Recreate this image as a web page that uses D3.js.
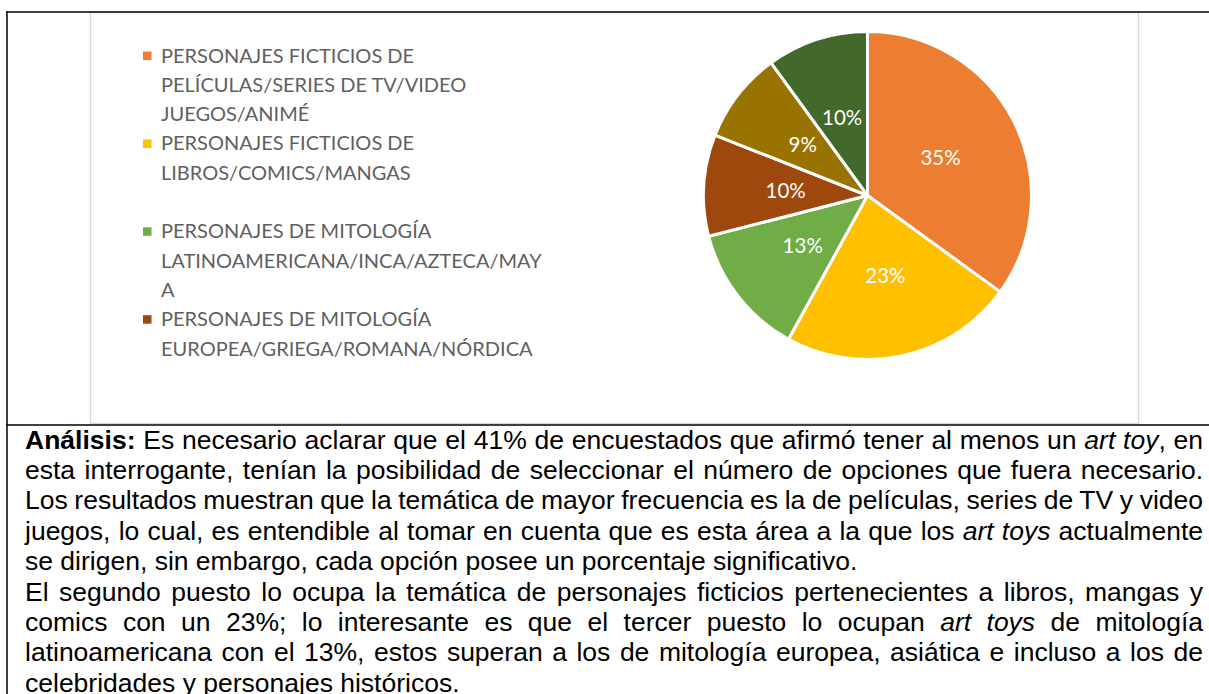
<!DOCTYPE html>
<html>
<head>
<meta charset="utf-8">
<script src="https://cdn.jsdelivr.net/npm/d3@7"></script>
<style>
  body { margin: 0; background: white; }
  svg { display: block; }
</style>
</head>
<body>
<div id="viz"></div>
<script>
// pie values, clockwise from 12 o'clock
var values = [35, 23, 13, 10, 9, 10];
var colors = ['#ED7D31', '#FFC000', '#70AD47', '#9E480E', '#997300', '#43682B'];

// legend entries that are visible (already wrapped like the original)
var legend_lines = [
  ['PERSONAJES FICTICIOS DE', 'PELÍCULAS/SERIES DE TV/VIDEO', 'JUEGOS/ANIMÉ'],
  ['PERSONAJES FICTICIOS DE', 'LIBROS/COMICS/MANGAS', ''],
  ['PERSONAJES DE MITOLOGÍA', 'LATINOAMERICANA/INCA/AZTECA/MAY', 'A'],
  ['PERSONAJES DE MITOLOGÍA', 'EUROPEA/GRIEGA/ROMANA/NÓRDICA']
];

// analysis paragraph, one entry per printed line
var text_lines = [
  {justify: true, parts: [{t: 'Análisis:', b: 1}, {t: ' Es necesario aclarar que el 41% de encuestados que afirmó tener al menos un '}, {t: 'art toy', i: 1}, {t: ', en'}]},
  {justify: true, parts: [{t: 'esta interrogante, tenían la posibilidad de seleccionar el número de opciones que fuera necesario.'}]},
  {justify: true, parts: [{t: 'Los resultados muestran que la temática de mayor frecuencia es la de películas, series de TV y video'}]},
  {justify: true, parts: [{t: 'juegos, lo cual, es entendible al tomar en cuenta que es esta área a la que los '}, {t: 'art toys', i: 1}, {t: ' actualmente'}]},
  {justify: false, parts: [{t: 'se dirigen, sin embargo, cada opción posee un porcentaje significativo.'}]},
  {justify: true, parts: [{t: 'El segundo puesto lo ocupa la temática de personajes ficticios pertenecientes a libros, mangas y'}]},
  {justify: true, parts: [{t: 'comics con un 23%; lo interesante es que el tercer puesto lo ocupan '}, {t: 'art toys', i: 1}, {t: ' de mitología'}]},
  {justify: true, parts: [{t: 'latinoamericana con el 13%, estos superan a los de mitología europea, asiática e incluso a los de'}]},
  {justify: false, parts: [{t: 'celebridades y personajes históricos.'}]}
];

var W = 1209, H = 694;
var svg = d3.select('#viz').append('svg')
    .attr('width', W)
    .attr('height', H);

// table borders
var frame = {left: 90.5, top: 12.5, right: 1138.5, bottom: 423.5};
svg.append('rect')
    .attr('x', frame.left)
    .attr('y', frame.top)
    .attr('width', frame.right - frame.left)
    .attr('height', frame.bottom - frame.top)
    .attr('fill', 'white')
    .attr('stroke', '#D9D9D9')
    .attr('stroke-width', 1.5);
svg.append('line')
    .attr('x1', 6).attr('x2', W).attr('y1', 12).attr('y2', 12)
    .attr('stroke', 'black').attr('stroke-width', 1.5);
svg.append('line')
    .attr('x1', 6).attr('x2', W).attr('y1', 425).attr('y2', 425)
    .attr('stroke', 'black').attr('stroke-width', 1.5);
svg.append('line')
    .attr('x1', 7).attr('x2', 7).attr('y1', 11.25).attr('y2', H)
    .attr('stroke', 'black').attr('stroke-width', 1.5);

// pie
var radius = 164;
var pie = d3.pie().sort(null).value(function(d) { return d; });
var arc = d3.arc().innerRadius(0).outerRadius(radius);
var pie_g = svg.append('g')
    .attr('transform', 'translate(867.5,195.5)');

pie_g.selectAll('path')
    .data(pie(values))
    .enter().append('path')
    .attr('d', arc)
    .attr('fill', function(d, i) { return colors[i]; })
    .attr('stroke', 'white')
    .attr('stroke-width', 3)
    .attr('stroke-linejoin', 'round');

pie_g.selectAll('text')
    .data(pie(values))
    .enter().append('text')
    .attr('transform', function(d) { return 'translate(' + arc.centroid(d) + ')'; })
    .attr('text-anchor', 'middle')
    .attr('dy', '0.35em')
    .attr('fill', 'white')
    .style('font-family', 'Lato, "Open Sans", sans-serif')
    .style('font-size', '20.5px')
    .text(function(d) { return d.value + '%'; });

// legend
var legend_x = 143, legend_y = 55.5, line_h = 29.3;
var row = 0;
legend_lines.forEach(function(lines, i) {
  svg.append('rect')
    .attr('x', legend_x)
    .attr('y', legend_y + row * line_h - 4)
    .attr('width', 8.5)
    .attr('height', 8.5)
    .attr('fill', colors[i]);
  lines.forEach(function(s) {
    svg.append('text')
      .attr('x', legend_x + 18)
      .attr('y', legend_y + row * line_h)
      .attr('dy', '0.35em')
      .attr('fill', '#5f5f5f')
      .style('font-family', 'Lato, "Open Sans", sans-serif')
      .style('font-size', '20px')
      .text(s);
    row++;
  });
});

// analysis text, justified by hand
var text_x = 25, text_right = 1203, base_y = 448.5, text_h = 30.4;
text_lines.forEach(function(line, i) {
  var t = svg.append('text')
    .attr('x', text_x)
    .attr('y', base_y + i * text_h)
    .attr('fill', 'black')
    .style('font-family', '"Liberation Sans", Arial, sans-serif')
    .style('font-size', '26.5px')
    .attr('xml:space', 'preserve');
  line.parts.forEach(function(p) {
    t.append('tspan')
      .style('font-weight', p.b ? 'bold' : 'normal')
      .style('font-style', p.i ? 'italic' : 'normal')
      .text(p.t);
  });
  if (line.justify) {
    var full = line.parts.map(function(p) { return p.t; }).join('');
    var spaces = full.split(' ').length - 1;
    var len = t.node().getComputedTextLength();
    t.style('word-spacing', ((text_right - text_x - len) / spaces) + 'px');
  }
});
</script>
</body>
</html>
